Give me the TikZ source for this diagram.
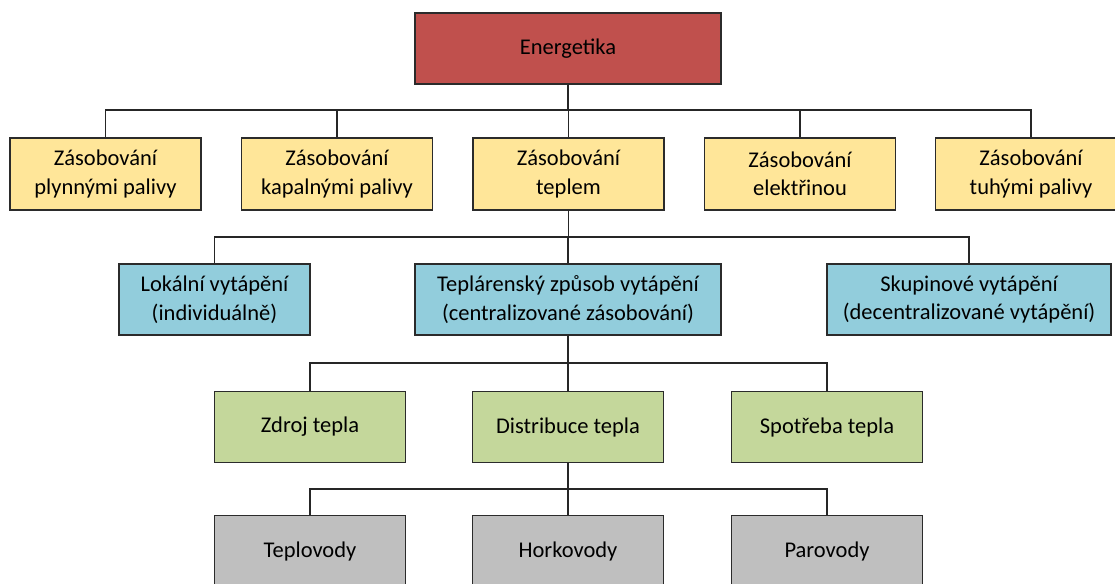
\documentclass[tikz,border=0pt]{standalone}
\usepackage{fontspec}
\setmainfont{Carlito}
\definecolor{cred}{HTML}{C0504D}
\definecolor{cyel}{HTML}{FFE699}
\definecolor{cblu}{HTML}{92CDDC}
\definecolor{cgrn}{HTML}{C4D79B}
\definecolor{cgry}{HTML}{BFBFBF}
\definecolor{cbrd}{HTML}{2B2B2B}
\tikzset{
  box/.style={draw=cbrd, line width=1.6pt, rectangle, align=center, inner sep=0pt,
    minimum width=191pt, minimum height=71pt, font=\fontsize{22.5}{28.5}\selectfont, text=black},
  conn/.style={draw=black!85, line width=1.5pt}
}
\begin{document}
\begin{tikzpicture}[x=1pt,y=-1pt]
\useasboundingbox (0,0) rectangle (1115,583);
\clip (0,0) rectangle (1115,583);
\fill[white] (0,0) rectangle (1115,583);
\coordinate (bus1) at (0,110);
\coordinate (bus2) at (0,237);
\coordinate (bus3) at (0,363);
\coordinate (bus4) at (0,489);
\node[box, fill=cred, minimum width=306pt] (en) at (568,48.5) {Energetika};
\node[box, fill=cyel, minimum height=72pt] (z1) at (105.5,174) {Zásobování\\plynnými palivy};
\node[box, fill=cyel, minimum height=72pt] (z2) at (337,174) {Zásobování\\kapalnými palivy};
\node[box, fill=cyel, minimum height=72pt] (z3) at (568.5,174) {Zásobování\\teplem};
\node[box, fill=cyel, minimum height=72pt] (z4) at (800,174) {Zásobování\\elektřinou};
\node[box, fill=cyel, minimum height=72pt] (z5) at (1031,174) {Zásobování\\tuhými palivy};
\node[box, fill=cblu] (v1) at (214.5,299.5) {Lokální vytápění\\(individuálně)};
\node[box, fill=cblu, minimum width=306pt] (v2) at (568,299.5) {Teplárenský způsob vytápění\\(centralizované zásobování)};
\node[box, fill=cblu, minimum width=284pt] (v3) at (969,299.5) {Skupinové vytápění\\(decentralizované vytápění)};
\node[box, fill=cgrn] (t1) at (310,427) {Zdroj tepla};
\node[box, fill=cgrn] (t2) at (568,427) {Distribuce tepla};
\node[box, fill=cgrn] (t3) at (827,427) {Spotřeba tepla};
\node[box, fill=cgry] (p1) at (310,551) {Teplovody};
\node[box, fill=cgry] (p2) at (568,551) {Horkovody};
\node[box, fill=cgry] (p3) at (827,551) {Parovody};
\foreach \c in {z1,z2,z3,z4,z5} \draw[conn] (en.south) -- (en.south |- bus1) -| (\c.north);
\foreach \c in {v1,v2,v3} \draw[conn] (z3.south) -- (z3.south |- bus2) -| (\c.north);
\foreach \c in {t1,t2,t3} \draw[conn] (v2.south) -- (v2.south |- bus3) -| (\c.north);
\foreach \c in {p1,p2,p3} \draw[conn] (t2.south) -- (t2.south |- bus4) -| (\c.north);
\end{tikzpicture}
\end{document}
